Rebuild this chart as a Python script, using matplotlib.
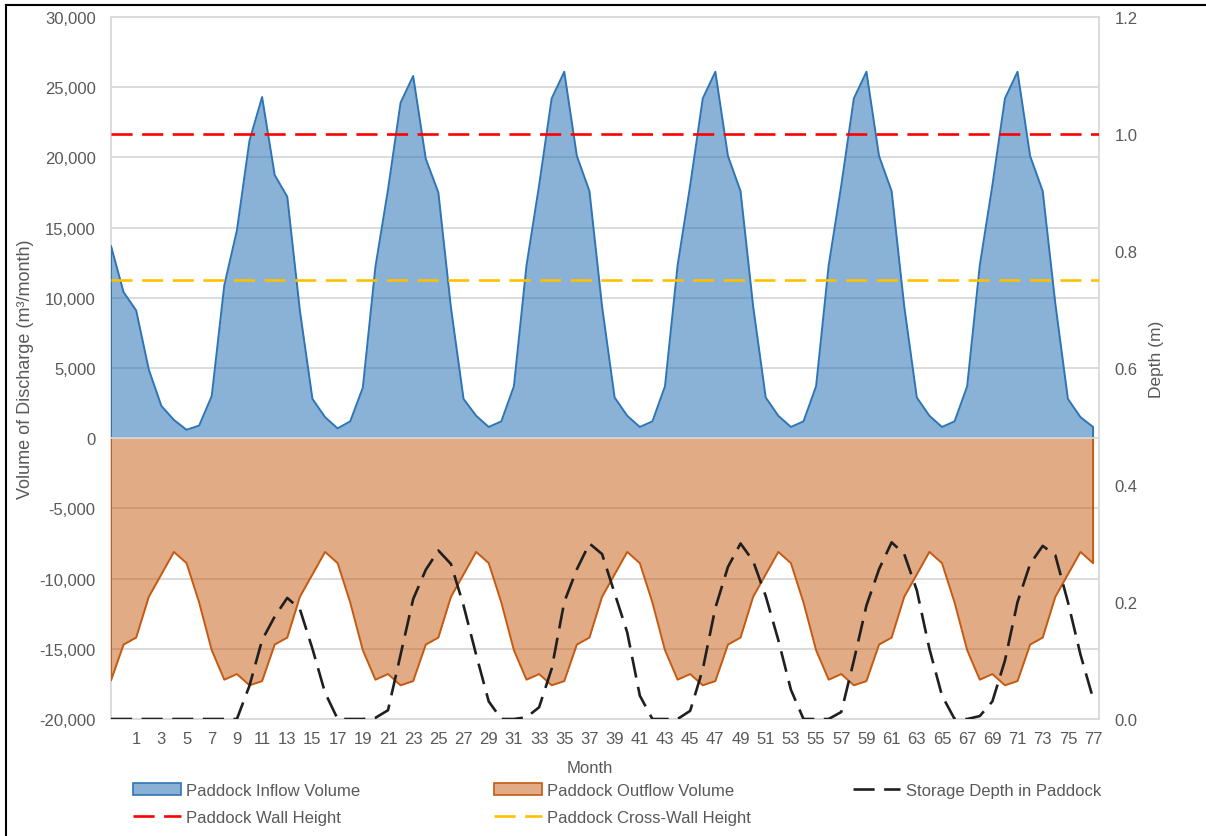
import matplotlib
matplotlib.use("Agg")
import matplotlib.pyplot as plt
import numpy as np
from matplotlib.lines import Line2D
from matplotlib.patches import Patch
from matplotlib.ticker import FuncFormatter, MultipleLocator

plt.rcParams["font.family"] = ["Liberation Sans", "DejaVu Sans"]
plt.rcParams["font.size"] = 12

# monthly series (79 points)
inflow = [
    13700, 10400, 9100, 4900, 2300, 1300, 600, 900, 3000, 10900, 14800, 21200,
    24300, 18750, 17200, 9100, 2800, 1500, 700, 1200, 3600, 12200, 17700, 23900,
    25800, 19900, 17500, 9300, 2800, 1600, 800, 1200, 3700, 12300, 18000, 24200,
    26100, 20100, 17600, 9400, 2900, 1600, 800, 1200, 3700, 12300, 18000, 24200,
    26100, 20100, 17600, 9400, 2900, 1600, 800, 1200, 3700, 12300, 18000, 24200,
    26100, 20100, 17600, 9400, 2900, 1600, 800, 1200, 3700, 12300, 18000, 24200,
    26100, 20100, 17600, 9600, 2800, 1500, 800,
]
outflow = [
    -17250, -14700, -14200, -11300, -9700, -8100, -8900, -11700, -15100, -17200, -16800, -17600,
    -17300, -14700, -14200, -11300, -9700, -8100, -8900, -11700, -15100, -17200, -16800, -17600,
    -17300, -14700, -14200, -11300, -9700, -8100, -8900, -11700, -15100, -17200, -16800, -17600,
    -17300, -14700, -14200, -11300, -9700, -8100, -8900, -11700, -15100, -17200, -16800, -17600,
    -17300, -14700, -14200, -11300, -9700, -8100, -8900, -11700, -15100, -17200, -16800, -17600,
    -17300, -14700, -14200, -11300, -9700, -8100, -8900, -11700, -15100, -17200, -16800, -17600,
    -17300, -14700, -14200, -11300, -9700, -8100, -8900,
]
depth = [
    0, 0, 0, 0, 0, 0, 0, 0, 0, 0, 0, 0.057,
    0.135, 0.175, 0.207, 0.188, 0.12, 0.045, 0, 0, 0, 0.002, 0.015, 0.11,
    0.205, 0.255, 0.288, 0.265, 0.194, 0.11, 0.03, 0, 0, 0.003, 0.02, 0.086,
    0.2, 0.256, 0.3, 0.282, 0.215, 0.148, 0.04, 0, 0, 0, 0.014, 0.085,
    0.19, 0.26, 0.3, 0.27, 0.21, 0.135, 0.05, 0, 0, 0, 0.012, 0.1,
    0.194, 0.256, 0.302, 0.282, 0.22, 0.12, 0.04, 0, 0, 0.005, 0.03, 0.1,
    0.2, 0.265, 0.296, 0.28, 0.2, 0.11, 0.035,
]
wall_height = 1.0
cross_wall_height = 0.75

month_labels = list(range(1, 78, 2))
month_label_pos = [m + 1 for m in month_labels]

TEXT = "#595959"
GRID = "#D9D9D9"
BLUE = "#2E75B6"
ORANGE = "#C55A11"

x = np.arange(len(inflow))

fig = plt.figure(figsize=(12.06, 8.37), dpi=100)
ax = fig.add_axes([111 / 1206, 1 - 720 / 837, 988 / 1206, 702 / 837])
ax2 = ax.twinx()

# areas (semi-transparent like the Excel fill, gridlines show through)
ax.fill_between(x, inflow, 0, color=BLUE, alpha=0.56, lw=0, zorder=2)
ax.plot(np.r_[x[0], x, x[-1]], np.r_[0, inflow, 0], color=BLUE, lw=1.4, zorder=3)
ax.fill_between(x, outflow, 0, color=ORANGE, alpha=0.51, lw=0, zorder=2)
ax.plot(np.r_[x[0], x, x[-1]], np.r_[0, outflow, 0], color=ORANGE, lw=1.4, zorder=3)
ax.axhline(0, color=GRID, lw=1.3, zorder=4)

ax.set_xlim(0, 78.47)
ax.set_ylim(-20000, 30000)
ax.yaxis.set_major_locator(MultipleLocator(5000))
ax.yaxis.set_major_formatter(FuncFormatter(lambda v, _: f"{v:,.0f}"))
ax.set_xticks(month_label_pos)
ax.set_xticklabels(month_labels)
ax.grid(axis="y", color=GRID, lw=1.3)
ax.set_axisbelow(True)
ax.tick_params(axis="y", length=0, pad=11, colors=TEXT, labelsize=12)
ax.tick_params(axis="x", length=0, pad=9, colors=TEXT, labelsize=12)
for s in ax.spines.values():
    s.set_color(GRID)
    s.set_linewidth(1.3)

ax.set_ylabel("Volume of Discharge (m³/month)", color=TEXT, fontsize=13)
ax.yaxis.set_label_coords(-0.078, 0.5)
ax.set_xlabel("Month", color=TEXT, fontsize=12)
ax.xaxis.set_label_coords(0.485, -0.058)

# depth axis
dash = (8, 3.6)
ax2.plot(x, depth, color="#1F1F1F", lw=1.9, dashes=dash, zorder=5)
ax2.axhline(wall_height, color="#FF0000", lw=1.9, dashes=dash)
ax2.axhline(cross_wall_height, color="#FFC000", lw=1.9, dashes=dash)
ax2.set_ylim(0, 1.2)
ax2.yaxis.set_major_locator(MultipleLocator(0.2))
ax2.yaxis.set_major_formatter(FuncFormatter(lambda v, _: f"{v:.1f}"))
ax2.tick_params(axis="y", length=0, pad=11, colors=TEXT, labelsize=12)
for s in ax2.spines.values():
    s.set_visible(False)
ax2.set_ylabel("Depth (m)", color=TEXT, fontsize=12.5)
ax2.yaxis.set_label_coords(1.0506, 0.513)

# legend, three equal-width columns like Excel
h_in = Patch(facecolor="#8BB0D6", edgecolor=BLUE, lw=1.2)
h_out = Patch(facecolor="#E2AB87", edgecolor=ORANGE, lw=1.2)
h_depth = Line2D([], [], color="#1F1F1F", lw=1.9, dashes=dash)
h_wall = Line2D([], [], color="#FF0000", lw=1.9, dashes=dash)
h_cross = Line2D([], [], color="#FFC000", lw=1.9, dashes=dash)
columns = [
    ([h_in, h_wall], ["Paddock Inflow Volume", "Paddock Wall Height"], 133),
    ([h_out, h_cross], ["Paddock Outflow Volume", "Paddock Cross-Wall Height"], 494),
    ([h_depth], ["Storage Depth in Paddock"], 853),
]
for handles, labels, xpix in columns:
    fig.legend(
        handles, labels, loc="upper left", bbox_to_anchor=(xpix / 1206, 1 - 784 / 837),
        frameon=False, borderpad=0, borderaxespad=0, handlelength=2.85,
        handletextpad=0.35, labelspacing=0.72, labelcolor=TEXT, fontsize=12,
    )

# outer frame of the screenshot
fig.add_artist(Line2D([6 / 1206, 6 / 1206], [0, 1 - 6 / 837], color="black", lw=1.5,
                      transform=fig.transFigure))
fig.add_artist(Line2D([6 / 1206, 1], [1 - 6 / 837, 1 - 6 / 837], color="black", lw=1.5,
                      transform=fig.transFigure))

fig.savefig("out.png", dpi=100)
